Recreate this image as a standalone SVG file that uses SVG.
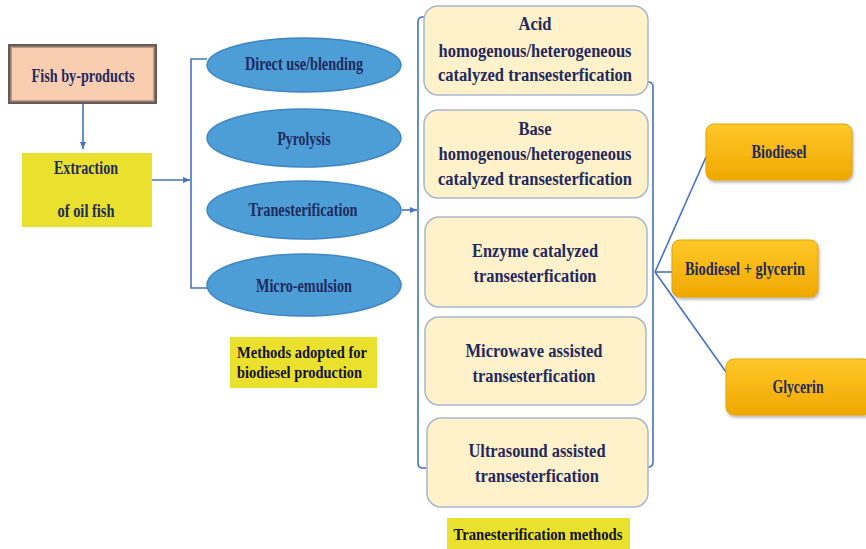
<svg xmlns="http://www.w3.org/2000/svg" width="866" height="549" viewBox="0 0 866 549">
<defs>
<style>
.t{font-family:"Liberation Serif","Times New Roman",serif;font-weight:bold;fill:#1F2A5E;text-anchor:middle;font-size:18.5px}
.k{font-family:"Liberation Serif","Times New Roman",serif;font-weight:bold;fill:#111;font-size:16.5px}
.ell{fill:#4D9ED6;stroke:#3F86C2;stroke-width:1.5}
.cb{fill:#FFF1C9;stroke:#A9B6CE;stroke-width:1.5}
.ob{fill:url(#og);stroke:#E3A500;stroke-width:1}
.ln{fill:none;stroke:#4472C4;stroke-width:1.6}
</style>
<linearGradient id="og" x1="0" y1="0" x2="0" y2="1">
<stop offset="0" stop-color="#FFC82A"/>
<stop offset="1" stop-color="#F0A800"/>
</linearGradient>
<marker id="ah" markerWidth="8" markerHeight="8" refX="7" refY="4" orient="auto" markerUnits="userSpaceOnUse">
<path d="M0,1 L7,4 L0,7 Z" fill="#4472C4"/>
</marker>
<filter id="sh" x="-10%" y="-10%" width="130%" height="140%">
<feDropShadow dx="1" dy="2" stdDeviation="1.5" flood-color="#000" flood-opacity="0.3"/>
</filter>
</defs>
<rect width="866" height="549" fill="#fff"/>

<g id="connectors">
<line class="ln" x1="83" y1="104" x2="83" y2="149" marker-end="url(#ah)"/>
<line class="ln" x1="152" y1="180" x2="190" y2="180" marker-end="url(#ah)"/>
<path class="ln" d="M207,59 H191 V288 H207"/>
<line class="ln" x1="402" y1="210" x2="417" y2="210" marker-end="url(#ah)"/>
<path class="ln" d="M426,17 H423 Q418,17 418,22 V463 Q418,468 423,468 H428"/>
<path class="ln" d="M647,82 H648 Q653,82 653,87 V462 Q653,467 648,467 H647"/>
<line class="ln" x1="655" y1="272" x2="706" y2="157"/>
<line class="ln" x1="655" y1="272" x2="672" y2="272"/>
<line class="ln" x1="655" y1="272" x2="726" y2="372"/>
</g>

<g id="fish">
<rect x="8" y="44" width="149" height="60" fill="#6a5a54"/>
<rect x="10.5" y="46.5" width="144" height="55" fill="#B89A8A"/>
<rect x="12" y="48" width="141" height="52" fill="#F9CDB0"/>
<text class="t" x="83" y="82" textLength="103" lengthAdjust="spacingAndGlyphs">Fish by-products</text>
</g>

<g id="extraction">
<rect x="22" y="153" width="130" height="74" fill="#E9E12E"/>
<text class="t" x="86" y="174" textLength="64" lengthAdjust="spacingAndGlyphs">Extraction</text>
<text class="t" x="86" y="217" textLength="57" lengthAdjust="spacingAndGlyphs">of oil fish</text>
</g>

<g id="direct">
<ellipse class="ell" cx="304" cy="65" rx="97" ry="27"/>
<text class="t" x="304" y="70" textLength="118" lengthAdjust="spacingAndGlyphs">Direct use/blending</text>
</g>
<g id="pyrolysis">
<ellipse class="ell" cx="304" cy="138" rx="97" ry="29"/>
<text class="t" x="304" y="145" textLength="53" lengthAdjust="spacingAndGlyphs">Pyrolysis</text>
</g>
<g id="tranest">
<ellipse class="ell" cx="304" cy="210" rx="97" ry="29"/>
<text class="t" x="303" y="216" textLength="109" lengthAdjust="spacingAndGlyphs">Tranesterification</text>
</g>
<g id="micro">
<ellipse class="ell" cx="304" cy="285" rx="97" ry="31"/>
<text class="t" x="304" y="292" textLength="96" lengthAdjust="spacingAndGlyphs">Micro-emulsion</text>
</g>

<g id="methods-label">
<rect x="230" y="337" width="147" height="51" fill="#E9E12E"/>
<text class="k" x="237" y="358" textLength="130" lengthAdjust="spacingAndGlyphs">Methods adopted for</text>
<text class="k" x="237" y="378" textLength="125" lengthAdjust="spacingAndGlyphs">biodiesel production</text>
</g>

<g id="acid">
<rect class="cb" x="424" y="6" width="224" height="89" rx="14"/>
<text class="t" x="535" y="30" textLength="33" lengthAdjust="spacingAndGlyphs">Acid</text>
<text class="t" x="535" y="57" textLength="193" lengthAdjust="spacingAndGlyphs">homogenous/heterogeneous</text>
<text class="t" x="535" y="81" textLength="194" lengthAdjust="spacingAndGlyphs">catalyzed transesterfication</text>
</g>
<g id="base">
<rect class="cb" x="424" y="110" width="224" height="88" rx="14"/>
<text class="t" x="535" y="135" textLength="33" lengthAdjust="spacingAndGlyphs">Base</text>
<text class="t" x="535" y="160" textLength="193" lengthAdjust="spacingAndGlyphs">homogenous/heterogeneous</text>
<text class="t" x="535" y="185" textLength="194" lengthAdjust="spacingAndGlyphs">catalyzed transesterfication</text>
</g>
<g id="enzyme">
<rect class="cb" x="425" y="217" width="222" height="90" rx="14"/>
<text class="t" x="535" y="257" textLength="126" lengthAdjust="spacingAndGlyphs">Enzyme  catalyzed</text>
<text class="t" x="535" y="282" textLength="123" lengthAdjust="spacingAndGlyphs">transesterfication</text>
</g>
<g id="microwave">
<rect class="cb" x="425" y="317" width="221" height="88" rx="14"/>
<text class="t" x="534" y="357" textLength="137" lengthAdjust="spacingAndGlyphs">Microwave assisted</text>
<text class="t" x="534" y="382" textLength="123" lengthAdjust="spacingAndGlyphs">transesterfication</text>
</g>
<g id="ultrasound">
<rect class="cb" x="427" y="418" width="221" height="89" rx="14"/>
<text class="t" x="537" y="457" textLength="137" lengthAdjust="spacingAndGlyphs">Ultrasound assisted</text>
<text class="t" x="537" y="482" textLength="124" lengthAdjust="spacingAndGlyphs">transesterfication</text>
</g>

<g id="tm-label">
<rect x="447" y="518" width="183" height="31" fill="#E9E12E"/>
<text class="k" x="538" y="540" text-anchor="middle" textLength="169" lengthAdjust="spacingAndGlyphs">Tranesterification  methods</text>
</g>

<g id="biodiesel">
<rect class="ob" x="706" y="124" width="146" height="56" rx="8" filter="url(#sh)"/>
<text class="t" x="779" y="158" textLength="55" lengthAdjust="spacingAndGlyphs">Biodiesel</text>
</g>
<g id="bio-gly">
<rect class="ob" x="672" y="240" width="146" height="57" rx="8" filter="url(#sh)"/>
<text class="t" x="745" y="275" textLength="120" lengthAdjust="spacingAndGlyphs">Biodiesel + glycerin</text>
</g>
<g id="glycerin">
<rect class="ob" x="726" y="359" width="146" height="56" rx="8" filter="url(#sh)"/>
<text class="t" x="798" y="393" textLength="51" lengthAdjust="spacingAndGlyphs">Glycerin</text>
</g>
</svg>
